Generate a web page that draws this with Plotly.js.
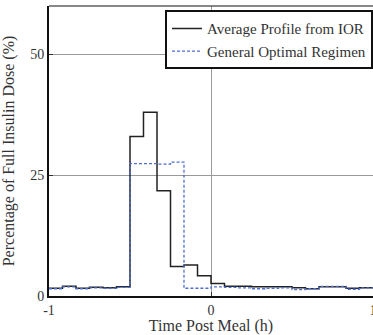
<!DOCTYPE html>
<html><head><meta charset="utf-8">
<script src="https://cdn.plot.ly/plotly-3.0.1.min.js"></script>
<style>html,body{margin:0;padding:0;background:#fff}</style>
</head><body><div id="chart" style="width:373px;height:335px"></div>
<script>
// bin start times (h), 5-minute bins from -1 to 1
const binEdges = [-1,-0.9167,-0.8333,-0.75,-0.6667,-0.5833,-0.5,-0.4167,-0.3333,-0.25,-0.1667,-0.0833,0,0.0833,0.1667,0.25,0.3333,0.4167,0.5,0.5833,0.6667,0.75,0.8333,0.9167,1];
const iorProfile = [1.6,2.0,1.6,1.8,1.7,1.9,33,38,21.8,6.1,6.4,4.2,2.6,2.0,2.0,1.9,1.9,1.9,1.7,1.5,1.9,1.9,1.6,1.7];
const optimalRegimen = [1.5,1.9,1.5,1.7,1.6,1.8,27.4,27.4,27.3,27.7,1.6,1.6,1.9,1.8,1.7,1.5,1.6,1.7,1.3,1.5,2.0,2.0,1.4,1.7];
const xTicks = [-1,0,1];
const yTicks = [0,25,50];

const serif = "'Liberation Serif', 'DejaVu Serif', serif";
function stepY(v){ return v.concat([v[v.length-1]]); }

const traces = [
  {x: binEdges, y: stepY(iorProfile), mode:'lines', line:{shape:'hv', color:'#222222', width:1.5}, name:'Average Profile from IOR'},
  {x: binEdges, y: stepY(optimalRegimen), mode:'lines', line:{shape:'hv', color:'#4f6fd0', width:1.3, dash:'3px,2px'}, name:'General Optimal Regimen'}
];

const layout = {
  width:373, height:335,
  margin:{l:49, r:0, t:6, b:39},
  paper_bgcolor:'#fff', plot_bgcolor:'#fff',
  font:{family:serif, size:15, color:'#333'},
  showlegend:true,
  legend:{x:1, y:0.985, xanchor:'right', yanchor:'top', bgcolor:'#fff', bordercolor:'#111', borderwidth:2,
          font:{family:serif, size:15, color:'#333'}, itemwidth:30, tracegroupgap:0},
  xaxis:{range:[-1,1], tickvals:xTicks, ticktext:xTicks.map(String), showgrid:true, gridcolor:'#999', gridwidth:1,
         zeroline:false, showline:true, linecolor:'#111', linewidth:2, ticks:'inside', ticklen:4, tickcolor:'#333',
         ticklabeloverflow:'allow', tickfont:{family:serif, size:14, color:'#333'},
         title:{text:'Time Post Meal (h)', font:{family:serif, size:16, color:'#333'}}, automargin:false},
  yaxis:{range:[0,60], tickvals:yTicks, ticktext:yTicks.map(String), showgrid:true, gridcolor:'#999', gridwidth:1,
         zeroline:false, showline:true, linecolor:'#111', linewidth:2, ticks:'inside', ticklen:4, tickcolor:'#333',
         tickfont:{family:serif, size:14, color:'#333'},
         title:{text:'Percentage of Full Insulin Dose (%)', font:{family:serif, size:16, color:'#333'}}, automargin:false},
  shapes:[{type:'line', xref:'paper', yref:'paper', x0:0, x1:1, y0:1, y1:1, line:{color:'#111', width:1}}]
};
Plotly.newPlot('chart', traces, layout, {displayModeBar:false, staticPlot:true});
</script></body></html>
